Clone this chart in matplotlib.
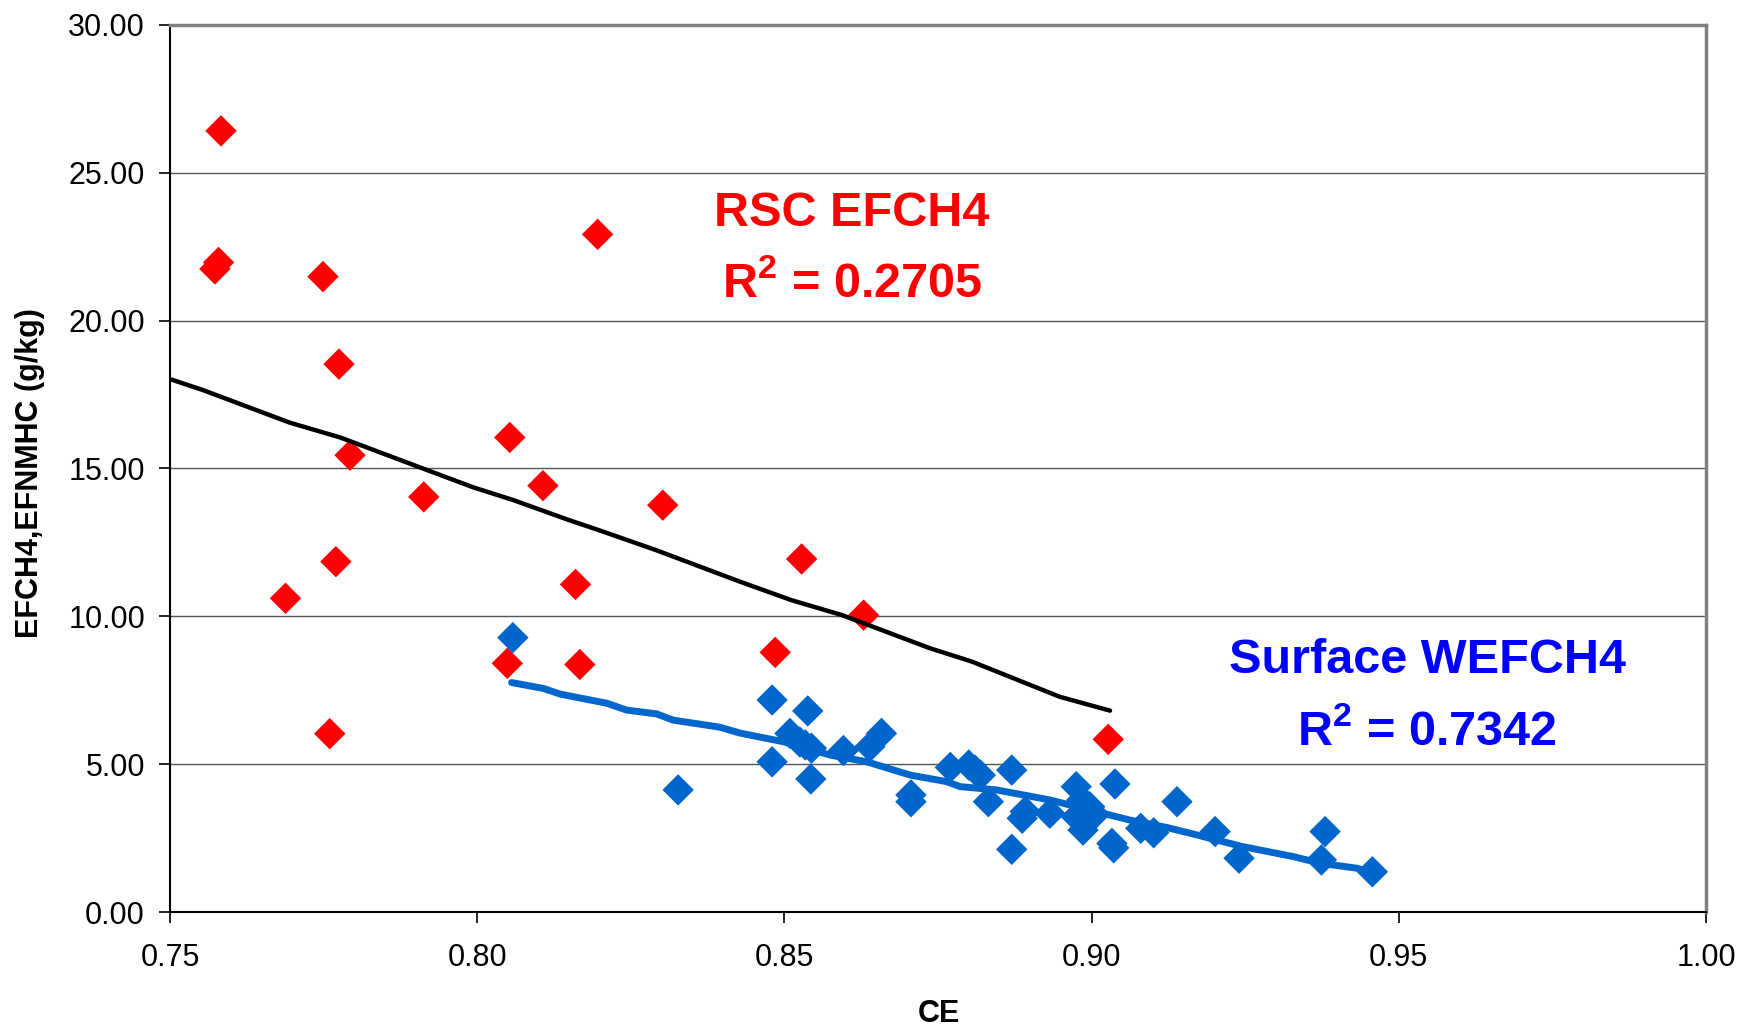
import matplotlib
matplotlib.use("Agg")
import matplotlib.pyplot as plt

plt.rcParams['font.family'] = ['Liberation Sans', 'DejaVu Sans']
plt.rcParams['mathtext.fontset'] = 'custom'
plt.rcParams['mathtext.rm'] = 'Liberation Sans'
plt.rcParams['mathtext.bf'] = 'Liberation Sans:bold'

# RSC EFCH4 points
rsc_ce = [0.7583, 0.7573, 0.7579, 0.7749, 0.7775, 0.7793, 0.7913, 0.7770, 0.7688, 0.7760,
          0.8053, 0.8107, 0.8196, 0.8302, 0.8160, 0.8167, 0.8049, 0.8485, 0.8528, 0.8629, 0.9027]
rsc_ef = [26.42, 21.75, 21.97, 21.49, 18.53, 15.45, 14.04, 11.85, 10.61, 6.03,
          16.05, 14.42, 22.92, 13.76, 11.08, 8.37, 8.41, 8.78, 11.94, 10.04, 5.84]

# Surface WEFCH4 points
surf_ce = [0.8058, 0.8327, 0.8480, 0.8538, 0.8509, 0.8480, 0.8525, 0.8534, 0.8544, 0.8543,
           0.8596, 0.8658, 0.8639, 0.8706, 0.8706, 0.8770, 0.8800, 0.8810, 0.8819, 0.8832,
           0.8870, 0.8887, 0.8892, 0.8870, 0.8932, 0.8975, 0.8984, 0.8997, 0.8975, 0.8990,
           0.8986, 0.9005, 0.9038, 0.9033, 0.9036, 0.9080, 0.9101, 0.9139, 0.9201, 0.9240,
           0.9380, 0.9374, 0.9457]
surf_ef = [9.28, 4.13, 7.17, 6.80, 6.04, 5.08, 5.75, 5.65, 5.54, 4.50,
           5.46, 6.04, 5.59, 3.96, 3.73, 4.89, 4.97, 4.80, 4.63, 3.73,
           4.80, 3.17, 3.40, 2.12, 3.34, 4.24, 3.79, 3.56, 3.22, 3.40,
           2.77, 3.30, 4.33, 2.32, 2.17, 2.83, 2.68, 3.73, 2.72, 1.82,
           2.72, 1.76, 1.36]

# Trend lines (as drawn)
rsc_trend_ce = [0.7502, 0.7554, 0.7695, 0.7777, 0.7918, 0.7994, 0.8059, 0.8146, 0.8200,
                0.8291, 0.8428, 0.8511, 0.8594, 0.8737, 0.8805, 0.8948, 0.9030]
rsc_trend_ef = [18.01, 17.65, 16.55, 16.05, 14.95, 14.36, 13.93, 13.28, 12.90,
                12.24, 11.17, 10.55, 10.04, 8.92, 8.47, 7.28, 6.81]

surf_trend_ce = [0.8056, 0.8108, 0.8135, 0.8211, 0.8243, 0.8292, 0.8319, 0.8395, 0.8428,
                 0.8498, 0.8574, 0.8634, 0.8705, 0.8764, 0.8786, 0.8845, 0.8932, 0.9024,
                 0.9062, 0.9122, 0.9165, 0.9244, 0.9329, 0.9372, 0.9432, 0.9459]
surf_trend_ef = [7.76, 7.56, 7.37, 7.06, 6.83, 6.70, 6.49, 6.25, 6.05,
                 5.76, 5.31, 5.08, 4.63, 4.41, 4.24, 4.13, 3.79, 3.31,
                 3.11, 2.86, 2.64, 2.22, 1.87, 1.65, 1.48, 1.31]

x_ticks = [0.75, 0.80, 0.85, 0.90, 0.95, 1.00]
y_ticks = [0, 5, 10, 15, 20, 25, 30]

fig = plt.figure(figsize=(17.47, 10.28), dpi=100)
ax = fig.add_axes([170/1747, 1 - 912/1028, 1536/1747, 887/1028])

ax.set_xlim(0.75, 1.00)
ax.set_ylim(0, 30)

ax.scatter(rsc_ce, rsc_ef, marker='D', s=16**2, color='#FF0000', edgecolors='none', zorder=3)
ax.scatter(surf_ce, surf_ef, marker='D', s=16**2, color='#0066CC', edgecolors='none', zorder=3)
ax.plot(rsc_trend_ce, rsc_trend_ef, color='black', lw=3.2, solid_capstyle='round', zorder=4)
ax.plot(surf_trend_ce, surf_trend_ef, color='#0066CC', lw=5, solid_capstyle='round', zorder=4)

ax.set_xticks(x_ticks)
ax.set_xticklabels([f"{v:.2f}" for v in x_ticks])
ax.set_yticks(y_ticks)
ax.set_yticklabels([f"{v:.2f}" for v in y_ticks])
ax.tick_params(axis='both', direction='out', length=8, width=1.2, labelsize=22, colors='black')
ax.tick_params(axis='x', pad=14)
ax.tick_params(axis='y', pad=10)

ax.yaxis.grid(True, color='#555555', lw=1)
ax.set_axisbelow(True)

for s in ['left', 'bottom']:
    ax.spines[s].set_color('black')
    ax.spines[s].set_linewidth(1.5)
for s in ['top', 'right']:
    ax.spines[s].set_color('#808080')
    ax.spines[s].set_linewidth(2.5)

ax.text(0.8610, 23.62, 'RSC EFCH4', color='#FF0000', fontsize=35, fontweight='bold',
        ha='center', va='center')
ax.text(0.8610, 21.24, r'$\mathbf{R^{2}}$ = 0.2705', color='#FF0000', fontsize=35,
        fontweight='bold', ha='center', va='center')
ax.text(0.9546, 8.52, 'Surface WEFCH4', color='#0000FF', fontsize=35, fontweight='bold',
        ha='center', va='center')
ax.text(0.9546, 6.10, r'$\mathbf{R^{2}}$ = 0.7342', color='#0000FF', fontsize=35,
        fontweight='bold', ha='center', va='center')

fig.text(30/1747, 1 - 473/1028, 'EFCH4,EFNMHC (g/kg)', rotation=90, fontsize=22,
         fontweight='bold', ha='center', va='center')
fig.text(939/1747, 1 - 1014/1028, 'CE', fontsize=22, fontweight='bold', ha='center', va='center')

fig.savefig('out.png', dpi=100, facecolor='white')
